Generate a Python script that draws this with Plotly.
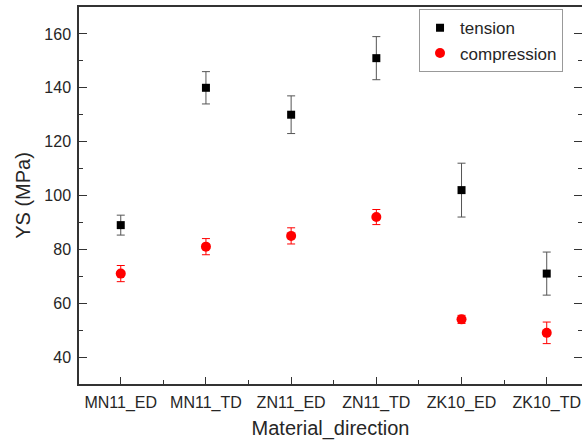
import plotly.graph_objects as go

categories = ["MN11_ED", "MN11_TD", "ZN11_ED", "ZN11_TD", "ZK10_ED", "ZK10_TD"]
tension = [89, 140, 130, 151, 102, 71]
tension_err = [3.7, 6, 7, 8, 10, 8]
compression = [71, 81, 85, 92, 54, 49]
compression_err = [3, 3, 3, 2.8, 1.5, 4]
y_ticks = [40, 60, 80, 100, 120, 140, 160]

xpos = list(range(len(categories)))
font_family = "Liberation Sans, Arial, sans-serif"
txt = "#262626"

fig = go.Figure()
fig.add_trace(go.Scatter(
    x=xpos, y=tension, mode="markers", name="tension",
    marker=dict(symbol="square", size=8, color="black"),
    error_y=dict(type="data", array=tension_err, color="#555555", thickness=1, width=4),
))
fig.add_trace(go.Scatter(
    x=xpos, y=compression, mode="markers", name="compression",
    marker=dict(symbol="circle", size=10, color="#ff0000"),
    error_y=dict(type="data", array=compression_err, color="#ff0000", thickness=1, width=4),
))
# invisible trace for right-side inward ticks
fig.add_trace(go.Scatter(x=[None], y=[None], yaxis="y2", showlegend=False, hoverinfo="skip"))

fig.update_layout(
    width=582, height=443,
    margin=dict(l=79, r=0, t=7, b=59),
    paper_bgcolor="white", plot_bgcolor="white",
    font=dict(family=font_family, color=txt, size=16),
    showlegend=True,
    legend=dict(x=0.676, y=0.994, xanchor="left", yanchor="top",
                bgcolor="white", bordercolor="#999999", borderwidth=1,
                font=dict(size=17, color=txt), tracegroupgap=0),
    xaxis=dict(
        range=[-0.49, 5.414], tickmode="array", tickvals=xpos, ticktext=categories,
        showline=True, linecolor="#333333", linewidth=1.5, mirror=True,
        ticks="inside", ticklen=7, tickcolor="#333333", tickwidth=1.2,
        minor=dict(tickmode="array", tickvals=[i + 0.5 for i in range(-1, 6)],
                   ticks="inside", ticklen=4, tickcolor="#333333", tickwidth=1.2),
        showgrid=False, zeroline=False,
        tickfont=dict(size=16), ticklabelstandoff=3,
        title=dict(text="Material_direction", font=dict(size=20), standoff=10),
    ),
    yaxis=dict(
        range=[30, 170], tickmode="array", tickvals=y_ticks,
        showline=True, linecolor="#333333", linewidth=1.5,
        ticks="inside", ticklen=8, tickcolor="#333333", tickwidth=1.2,
        minor=dict(tickmode="linear", tick0=30, dtick=10,
                   ticks="inside", ticklen=4, tickcolor="#333333", tickwidth=1.2),
        showgrid=False, zeroline=False,
        tickfont=dict(size=16), ticklabelstandoff=3,
        title=dict(text="YS (MPa)", font=dict(size=20), standoff=8),
    ),
    yaxis2=dict(
        range=[30, 170], overlaying="y", side="right", tickmode="array", tickvals=y_ticks,
        showticklabels=False, showline=False, showgrid=False, zeroline=False,
        ticks="inside", ticklen=8, tickcolor="#333333", tickwidth=1.2,
        minor=dict(tickmode="linear", tick0=30, dtick=10,
                   ticks="inside", ticklen=4, tickcolor="#333333", tickwidth=1.2),
    ),
)

fig.write_html("out.html")
